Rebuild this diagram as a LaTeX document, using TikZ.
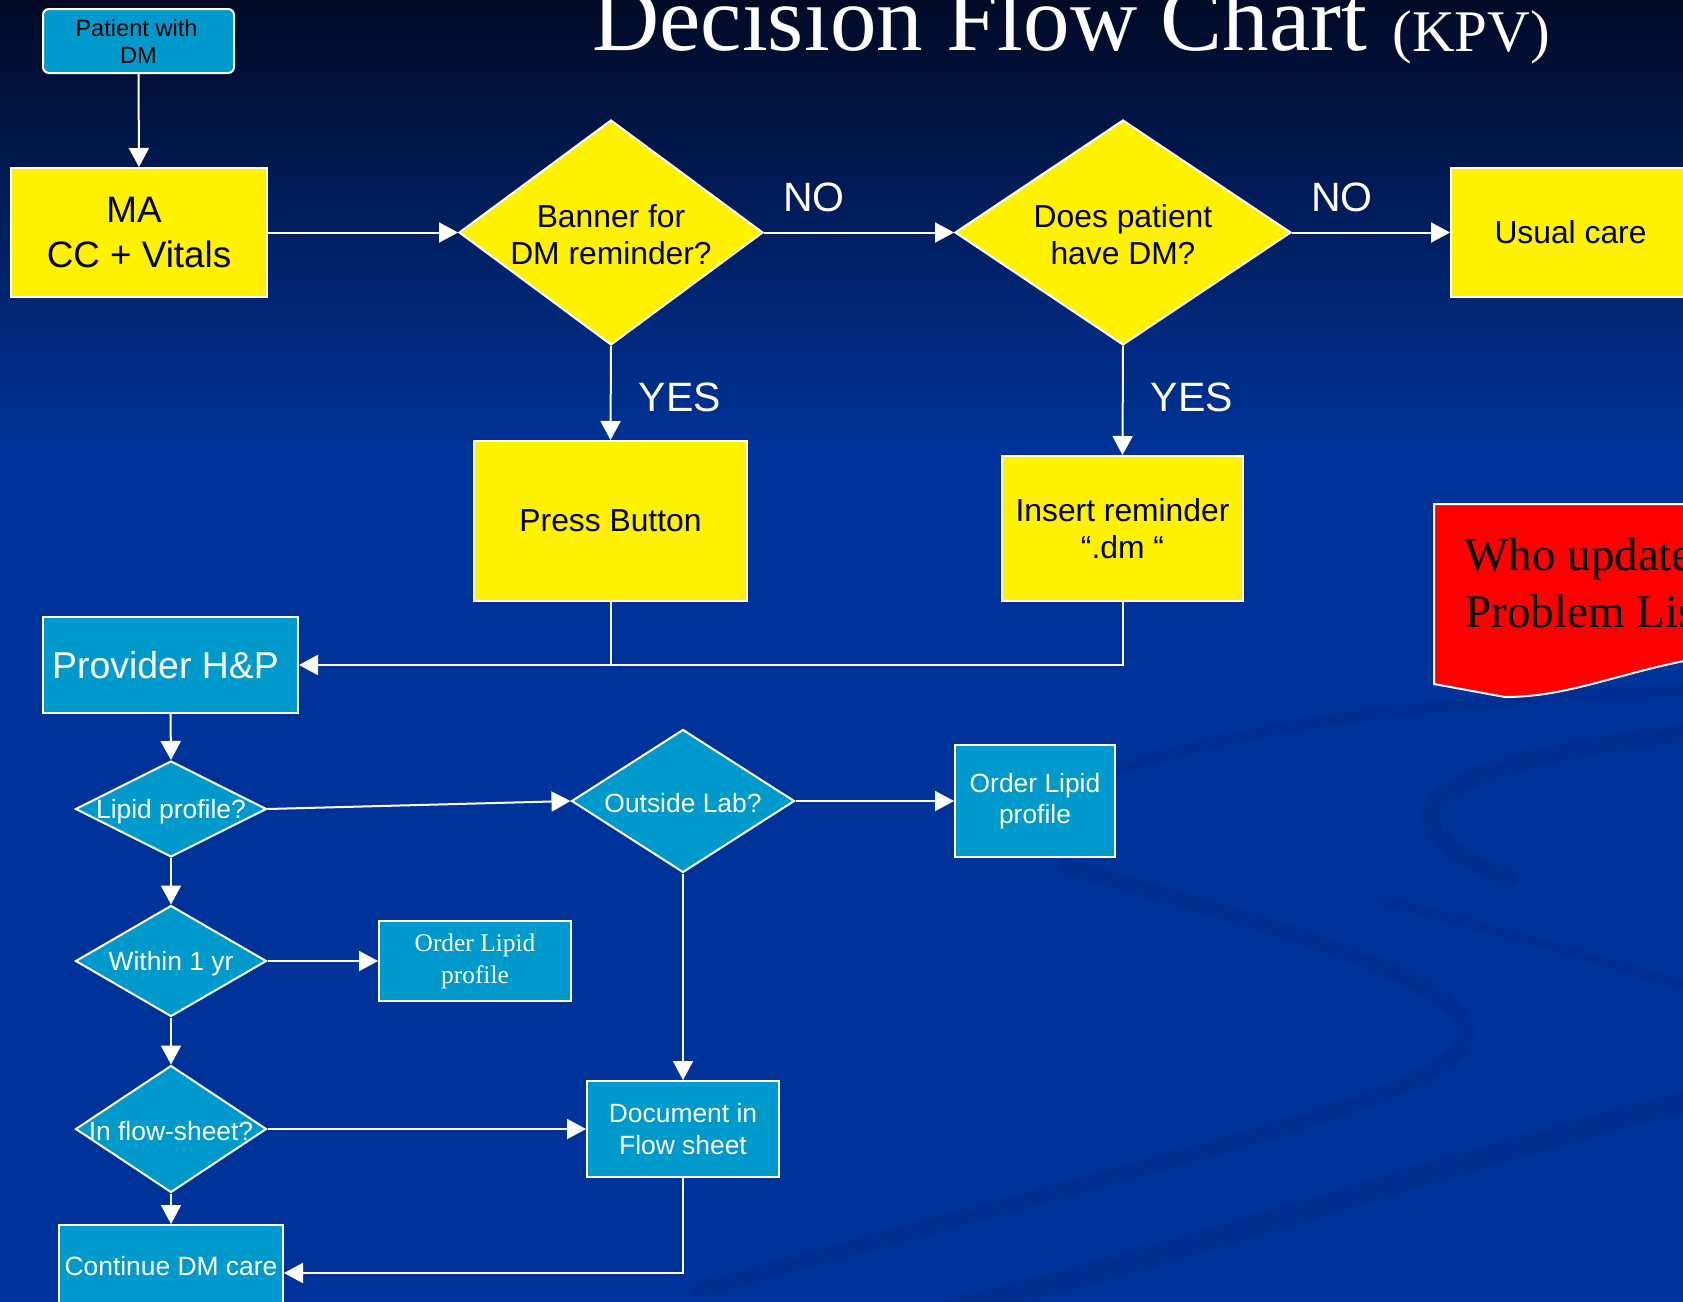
\documentclass[tikz,border=0pt]{standalone}
\usepackage{fontspec}
\setmainfont{Liberation Sans}
\newfontfamily\serifx{Liberation Serif}
\usetikzlibrary{shapes.geometric,arrows.meta}
\definecolor{bgblue}{RGB}{0,51,153}
\definecolor{bgtop}{RGB}{2,10,38}
\definecolor{cyanbox}{RGB}{0,153,204}
\definecolor{swirl}{RGB}{0,44,136}
\begin{document}
\begin{tikzpicture}[x=0.5pt,y=-0.5pt,
  conn/.style={draw=white, line width=1pt},
  arr/.style={conn, -{Triangle[length=9.5pt,width=10pt]}},
  ybox/.style={rectangle, draw=white, line width=1pt, fill=yellow, text=black, inner sep=0pt, align=center, font=\fontsize{15.9}{18.8}\selectfont},
  cbox/.style={rectangle, draw=white, line width=1pt, fill=cyanbox, text=white, inner sep=0pt, align=center, font=\fontsize{13.2}{15.8}\selectfont},
  ydia/.style={diamond, draw=white, line width=1pt, fill=yellow, inner sep=0pt},
  cdia/.style={diamond, draw=white, line width=1pt, fill=cyanbox, inner sep=0pt},
  ylbl/.style={text=black, align=center, font=\fontsize{15.9}{18.5}\selectfont, inner sep=0pt, yshift=-1pt},
  clbl/.style={text=white, align=center, font=\fontsize{13.2}{15.8}\selectfont, inner sep=0pt, yshift=-1.2pt},
  answer/.style={text=white, font=\fontsize{20.5}{24}\selectfont, inner sep=0pt},
  swirlband/.style={draw=swirl, line cap=round, opacity=0.45},
]
\path[use as bounding box] (0,0) rectangle (1683,1302);
\clip (0,0) rectangle (1683,1302);
% background
\fill[bgblue] (0,0) rectangle (1683,1302);
\shade[top color=bgtop, bottom color=bgblue] (0,0) rectangle (1683,450);
% decorative swirls
\draw[swirlband, line width=8pt] (1065,866) .. controls (1250,920) and (1500,985) .. (1462,1045) .. controls (1430,1100) and (1200,1150) .. (700,1290);
\draw[swirlband, line width=9pt] (1700,732) .. controls (1520,750) and (1420,785) .. (1432,822) .. controls (1442,850) and (1480,868) .. (1510,878);
\draw[swirlband, line width=6pt] (1110,772) .. controls (1250,725) and (1420,700) .. (1700,690);
\draw[swirlband, line width=11pt] (950,1310) .. controls (1200,1250) and (1450,1160) .. (1700,1098);
\draw[swirlband, line width=5pt] (1380,900) .. controls (1500,930) and (1600,960) .. (1700,990);

% title
\node[anchor=base west, inner sep=0pt, text=white, font=\serifx\fontsize{46.5}{50}\selectfont] (title) at (592,50) {Decision Flow Chart};
\node[anchor=base west, inner sep=0pt, text=white, font=\serifx\fontsize{29.5}{32}\selectfont] (kpv) at (1392,51) {(KPV)};

% top row
\node[rectangle, rounded corners=3pt, draw=white, line width=1pt, fill=cyanbox, text=black, inner sep=0pt, align=center,
      font=\fontsize{11.8}{13.5}\selectfont, minimum width=95.5pt, minimum height=32pt] (patient) at (138.5,41) {Patient with\hspace*{2pt}\\DM};
\node[ybox, minimum width=128pt, minimum height=64.5pt, font=\fontsize{18.4}{22.5}\selectfont] (ma) at (139,232.5) {MA\hspace*{5pt}\\CC + Vitals};
\node[ydia, minimum width=152pt, minimum height=112.5pt, label={[ylbl]center:Banner for\\DM reminder?}] (banner) at (611,232.5) {};
\node[ydia, minimum width=168pt, minimum height=112.5pt, label={[ylbl]center:Does patient\\have DM?}] (does) at (1123,232.5) {};
\node[ybox, minimum width=119.5pt, minimum height=64.5pt] (usual) at (1570.5,232.5) {Usual care};
\node[ybox, minimum width=136.5pt, minimum height=80pt] (press) at (610.5,521) {Press Button};
\node[ybox, minimum width=120.5pt, minimum height=72.5pt] (insert) at (1122.5,528.5) {Insert reminder\\“.dm “};

\node[answer] (no1) at (814,197) {NO};
\node[answer] (no2) at (1342,197) {NO};
\node[answer] (yes1) at (680,397) {YES};
\node[answer] (yes2) at (1192,397) {YES};

% red callout
\path[fill=red, draw=white, line width=1pt] (1434,504) -- (1700,504) -- (1700,658)
  .. controls (1620,672) and (1570,697) .. (1505,697) -- (1434,684) -- cycle;
\node[anchor=base west, inner sep=0pt, text=black, font=\serifx\fontsize{23.5}{28.5}\selectfont] (who) at (1464,570) {Who update};
\node[anchor=base west, inner sep=0pt, text=black, font=\serifx\fontsize{23.5}{28.5}\selectfont] (plist) at (1465,627) {Problem Lis};

% lower part
\node[cbox, minimum width=127.5pt, minimum height=48pt, font=\fontsize{18.7}{21}\selectfont] (provider) at (170.5,665) {Provider H\&P\hspace*{5pt}};
\node[cdia, minimum width=95.5pt, minimum height=48pt, label={[clbl]center:Lipid profile?}] (lipid) at (171,809) {};
\node[cdia, minimum width=111.5pt, minimum height=71.5pt, label={[clbl]center:Outside Lab?}] (outside) at (683,801) {};
\node[cbox, minimum width=80pt, minimum height=56pt] (orderR) at (1035,801) {Order Lipid\\profile};
\node[cdia, minimum width=95.5pt, minimum height=55.5pt, label={[clbl]center:Within 1 yr}] (within) at (171,961) {};
\node[cbox, minimum width=96pt, minimum height=40pt, font=\serifx\fontsize{12.7}{16}\selectfont] (orderL) at (475,961) {Order Lipid\\profile};
\node[cdia, minimum width=95.5pt, minimum height=63.5pt, label={[clbl]center:In flow-sheet?}] (inflow) at (171,1129) {};
\node[cbox, minimum width=96pt, minimum height=48pt] (document) at (683,1129) {Document in\\Flow sheet};
\node[cbox, minimum width=112pt, minimum height=41pt] (continue) at (171,1266) {Continue DM care};

% connectors
\draw[arr] (patient.south) -- (ma.north);
\draw[arr] (ma.east) -- (banner.west);
\draw[arr] (banner.east) -- (does.west);
\draw[arr] (does.east) -- (usual.west);
\draw[arr] (banner.south) -- (press.north);
\draw[arr] (does.south) -- (insert.north);
\draw[arr] (insert.south) |- (provider.east);
\draw[conn] (press.south) -- (press.south |- provider.east);
\draw[arr] (provider.south) -- (lipid.north);
\draw[arr] (lipid.east) -- (outside.west);
\draw[arr] (outside.east) -- (orderR.west);
\draw[arr] (lipid.south) -- (within.north);
\draw[arr] (within.east) -- (orderL.west);
\draw[arr] (within.south) -- (inflow.north);
\draw[arr] (inflow.east) -- (document.west);
\draw[arr] (outside.south) -- (document.north);
\draw[arr] (inflow.south) -- (continue.north);
\draw[arr] (document.south) |- ([yshift=-3.5pt]continue.east);
\end{tikzpicture}
\end{document}
